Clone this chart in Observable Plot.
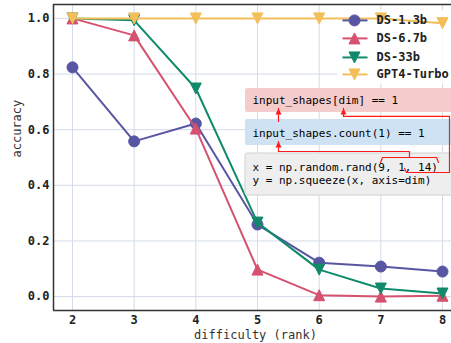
<!DOCTYPE html>
<html><head><meta charset="utf-8">
<script src="https://cdn.jsdelivr.net/npm/d3@7"></script>
<script src="https://cdn.jsdelivr.net/npm/@observablehq/plot@0.6"></script>
<style>html,body{margin:0;padding:0;background:#fff}</style>
</head><body><div id="chart"></div>
<script>
// ---- data ----
const difficulty = [2, 3, 4, 5, 6, 7, 8];
const seriesNames = ["DS-1.3b", "DS-6.7b", "DS-33b", "GPT4-Turbo"];
const ds13 = [0.824, 0.558, 0.622, 0.259, 0.122, 0.108, 0.090];
const ds67 = [1.0, 0.939, 0.604, 0.097, 0.005, 0.0, 0.003];
const ds33 = [1.0, 0.993, 0.748, 0.266, 0.097, 0.029, 0.011];
const gpt4 = [1.0, 1.0, 1.0, 1.0, 1.0, 1.0, 0.983];
const xTicks = [2, 3, 4, 5, 6, 7, 8];
const yTicks = [0, 0.2, 0.4, 0.6, 0.8, 1.0];
const xLabel = "difficulty (rank)";
const yLabel = "accuracy";
const boxTexts = ["input_shapes[dim] == 1", "input_shapes.count(1) == 1"];
const codeLines = ["x = np.random.rand(9, 1, 14)", "y = np.squeeze(x, axis=dim)"];

// ---- style / layout (data units of the axes) ----
const colors = ["#5856a2", "#d6506f", "#108a6b", "#f2bf5a"];
const xDomain = [1.692, 8.146];
const yDomain = [-0.05, 1.05];
const legendRowY = [0.9928, 0.9281, 0.8597, 0.7986];
const legendX = {x1: 6.378, x2: 6.784, mark: 6.573, text: 6.93};
const legendBox = {x1: 6.297, x2: 8.5, y1: 0.7626, y2: 1.0288};
const boxes = [
  {x1: 4.805, x2: 8.5, y1: 0.6619, y2: 0.7482, fill: "#f4cccc", stroke: "none"},
  {x1: 4.805, x2: 8.5, y1: 0.5432, y2: 0.6367, fill: "#cfe2f3", stroke: "none"},
  {x1: 4.805, x2: 8.5, y1: 0.3633, y2: 0.5144, fill: "#eeeeee", stroke: "#d2d2d2"}
];
const textX = 4.919;
const boxTextY = [0.705, 0.5863];
const codeTextY = [0.464, 0.4173];
const arrowPaths = [
  {id: "a", pts: [[5.3405, 0.6295], [5.3405, 0.6763]]},
  {id: "b", pts: [[6.3946, 0.6763], [6.3946, 0.6475], [8.1135, 0.6475], [8.1135, 0.446], [7.4162, 0.446], [7.3838, 0.4604]]},
  {id: "c", pts: [[5.3405, 0.5576], [5.3405, 0.5216], [7.4649, 0.5216], [7.4649, 0.5]]},
  {id: "d", pts: [[6.9946, 0.482], [7.027, 0.5], [7.9027, 0.5], [7.9351, 0.482]]}
];
const arrowTips = [[5.3405, 0.6763], [6.3946, 0.6763], [5.3405, 0.5576]];
const red = "#ff1a1a";

// ---- symbols ----
const triUp = {draw(ctx, size) { const r = Math.sqrt(size / Math.PI); ctx.moveTo(0, -r); ctx.lineTo(r, r); ctx.lineTo(-r, r); ctx.closePath(); }};
const triDown = {draw(ctx, size) { const r = Math.sqrt(size / Math.PI); ctx.moveTo(0, r); ctx.lineTo(r, -r); ctx.lineTo(-r, -r); ctx.closePath(); }};
const symbols = ["circle", triUp, triDown, triDown];
const radii = [5.5, 5.5, 5.5, 5.5];

const seriesValues = [ds13, ds67, ds33, gpt4];
const series = seriesNames.map((name, i) => difficulty.map((d, j) => ({name, difficulty: d, accuracy: seriesValues[i][j]})));

const seriesMarks = series.flatMap((rows, i) => [
  Plot.line(rows, {x: "difficulty", y: "accuracy", stroke: colors[i], strokeWidth: 2}),
  Plot.dot(rows, {x: "difficulty", y: "accuracy", symbol: symbols[i], r: radii[i], fill: colors[i], stroke: colors[i], strokeWidth: 1})
]);

const legendRows = seriesNames.map((name, i) => ({name, y: legendRowY[i], i}));
const legendMarks = legendRows.flatMap(d => [
  Plot.link([d], {x1: legendX.x1, x2: legendX.x2, y1: "y", y2: "y", stroke: colors[d.i], strokeWidth: 2}),
  Plot.dot([d], {x: legendX.mark, y: "y", symbol: symbols[d.i], r: radii[d.i], fill: colors[d.i], stroke: colors[d.i], strokeWidth: 1})
]);

const arrowRows = arrowPaths.flatMap(p => p.pts.map(([x, y]) => ({id: p.id, x, y})));

const chart = Plot.plot({
  width: 451, height: 343,
  marginLeft: 53, marginRight: 0, marginTop: 4, marginBottom: 33,
  style: {fontFamily: "'DejaVu Sans Mono', monospace", fontSize: "12px", background: "white", color: "#222"},
  x: {domain: xDomain},
  y: {domain: yDomain},
  marks: [
    Plot.gridX(xTicks, {stroke: "#d3dae8", strokeOpacity: 1, strokeWidth: 1}),
    Plot.gridY(yTicks, {stroke: "#d3dae8", strokeOpacity: 1, strokeWidth: 1}),
    Plot.rect([legendBox], {x1: "x1", x2: "x2", y1: "y1", y2: "y2", fill: "white", fillOpacity: 0.85, rx: 3}),
    ...seriesMarks,
    Plot.ruleX([xDomain[0]], {stroke: "#333", strokeWidth: 1.5}),
    Plot.ruleY([yDomain[0], yDomain[1]], {stroke: "#333", strokeWidth: 1.5}),
    Plot.axisX(xTicks, {tickSize: 0, tickPadding: 5, fontWeight: "bold", fontSize: 12, label: null, fill: "#222"}),
    Plot.axisY(yTicks, {tickSize: 0, tickPadding: 4, tickFormat: d3.format(".1f"), fontWeight: "bold", fontSize: 12, label: null, fill: "#222"}),
    Plot.text([yLabel], {text: d => d, frameAnchor: "left", rotate: -90, dx: -36, fontSize: 12, fill: "#333"}),
    Plot.text([xLabel], {text: d => d, frameAnchor: "bottom", lineAnchor: "middle", dy: 25, dx: 3, fontSize: 12, fill: "#333"}),
    ...legendMarks,
    Plot.text(legendRows, {x: legendX.text, y: "y", text: "name", textAnchor: "start", fontWeight: "bold", fontSize: 12, fill: "#222"}),
    Plot.rect(boxes, {x1: "x1", x2: "x2", y1: "y1", y2: "y2", fill: d => d.fill, stroke: d => d.stroke, rx: 2}),
    Plot.text(boxTexts, {x: textX, y: (d, i) => boxTextY[i], text: d => d, textAnchor: "start", fontSize: 11, fill: "#000"}),
    Plot.text(codeLines, {x: textX, y: (d, i) => codeTextY[i], text: d => d, textAnchor: "start", fontSize: 11, fill: "#000"}),
    Plot.line(arrowRows, {x: "x", y: "y", z: "id", stroke: red, strokeWidth: 1.2, curve: "linear"}),
    Plot.dot(arrowTips, {x: d => d[0], y: d => d[1], symbol: triUp, r: 3, dy: 3, fill: red, stroke: "none"})
  ]
});
document.getElementById("chart").appendChild(chart);
</script>
</body></html>
